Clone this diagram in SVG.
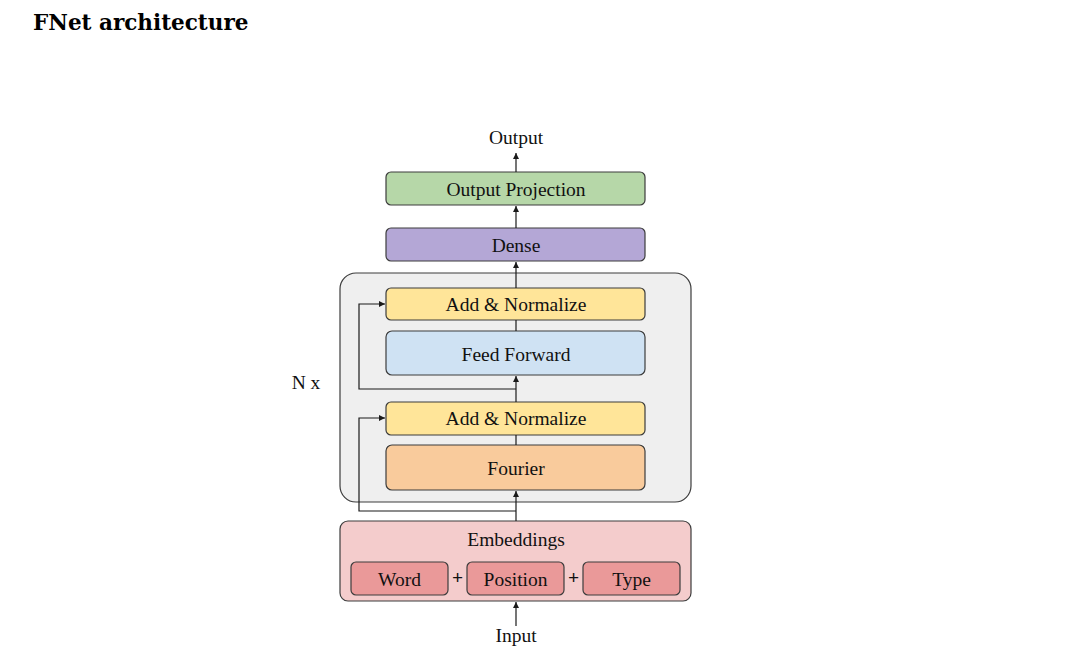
<svg xmlns="http://www.w3.org/2000/svg" width="1068" height="655" viewBox="0 0 1068 655">
<defs>
<style>
.box{stroke:#3c3c3c;stroke-width:1.2}
.t{font-family:"Liberation Serif","Times New Roman",serif;font-size:19.5px;fill:#111;text-anchor:middle}
.c{fill:none;stroke:#1a1a1a;stroke-width:1.2}
</style>
<marker id="ah" viewBox="0 0 8 8" refX="8" refY="4" markerWidth="6" markerHeight="6" orient="auto" markerUnits="userSpaceOnUse">
<path d="M0,0 L8,4 L0,8 z" fill="#1a1a1a"/>
</marker>
</defs>
<rect width="1068" height="655" fill="#ffffff"/>
<text x="33" y="30" font-family="'DejaVu Serif','Liberation Serif',serif" font-weight="bold" font-size="21.5" fill="#000">FNet architecture</text>

<g id="container">
<rect class="box" x="340" y="273" width="351" height="229" rx="16" fill="#efefef"/>
<text class="t" x="306" y="389">N x</text>
</g>

<g id="output"><text class="t" x="516" y="144">Output</text></g>
<g id="output-projection">
<rect class="box" x="386" y="172" width="259" height="33" rx="5" fill="#b6d7a8"/>
<text class="t" x="516" y="196">Output Projection</text>
</g>
<g id="dense">
<rect class="box" x="386" y="228" width="259" height="33" rx="5" fill="#b4a7d6"/>
<text class="t" x="516" y="252">Dense</text>
</g>
<g id="add-norm-2">
<rect class="box" x="386" y="288" width="259" height="32" rx="5" fill="#ffe599"/>
<text class="t" x="516" y="311">Add &amp; Normalize</text>
</g>
<g id="feed-forward">
<rect class="box" x="386" y="331" width="259" height="44" rx="6" fill="#cfe2f3"/>
<text class="t" x="516" y="361">Feed Forward</text>
</g>
<g id="add-norm-1">
<rect class="box" x="386" y="402" width="259" height="33" rx="5" fill="#ffe599"/>
<text class="t" x="516" y="425">Add &amp; Normalize</text>
</g>
<g id="fourier">
<rect class="box" x="386" y="445" width="259" height="45" rx="6" fill="#f9cb9c"/>
<text class="t" x="516" y="475">Fourier</text>
</g>
<g id="embeddings">
<rect class="box" x="340" y="521" width="351" height="80" rx="8" fill="#f4cccc"/>
<text class="t" x="516" y="546">Embeddings</text>
</g>
<g id="word">
<rect class="box" x="351" y="562" width="97" height="33" rx="5" fill="#ea9999"/>
<text class="t" x="399.5" y="586">Word</text>
</g>
<g id="position">
<rect class="box" x="467" y="562" width="97" height="33" rx="5" fill="#ea9999"/>
<text class="t" x="515.5" y="586">Position</text>
</g>
<g id="type">
<rect class="box" x="583" y="562" width="97" height="33" rx="5" fill="#ea9999"/>
<text class="t" x="631.5" y="586">Type</text>
</g>
<g id="plus-signs">
<text class="t" x="457.5" y="584" font-weight="bold" font-size="16">+</text>
<text class="t" x="573.5" y="584" font-weight="bold" font-size="16">+</text>
</g>
<g id="input"><text class="t" x="516" y="642">Input</text></g>

<g id="connectors">
<line class="c" x1="516" y1="626" x2="516" y2="602" marker-end="url(#ah)"/>
<line class="c" x1="516" y1="521" x2="516" y2="491" marker-end="url(#ah)"/>
<polyline class="c" points="516,511 359,511 359,418 385,418" marker-end="url(#ah)"/>
<line class="c" x1="516" y1="435" x2="516" y2="445"/>
<line class="c" x1="516" y1="402" x2="516" y2="376" marker-end="url(#ah)"/>
<polyline class="c" points="516,389 359,389 359,304 385,304" marker-end="url(#ah)"/>
<line class="c" x1="516" y1="320" x2="516" y2="331"/>
<line class="c" x1="516" y1="288" x2="516" y2="262" marker-end="url(#ah)"/>
<line class="c" x1="516" y1="228" x2="516" y2="206" marker-end="url(#ah)"/>
<line class="c" x1="516" y1="172" x2="516" y2="153" marker-end="url(#ah)"/>
</g>
</svg>
